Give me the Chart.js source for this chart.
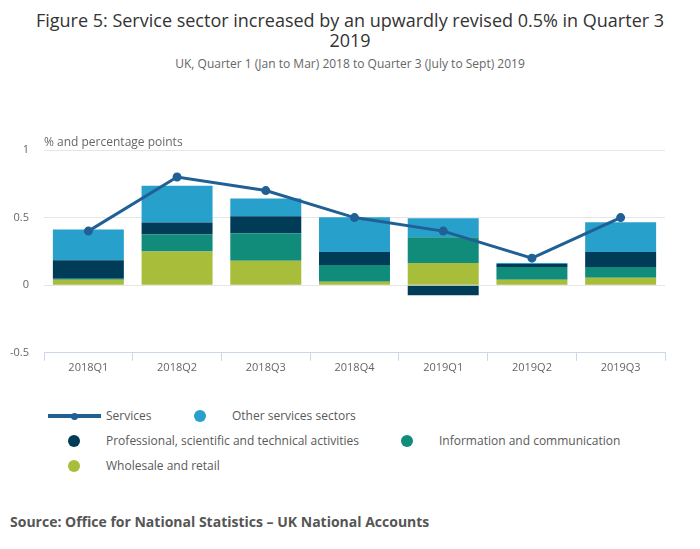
<!DOCTYPE html>
<html>
<head>
<meta charset="utf-8">
<script src="https://cdn.jsdelivr.net/npm/chart.js@4"></script>
<style>
  body { margin: 0; background: #fff; font-family: 'Open Sans', sans-serif; }
  #page { position: relative; width: 700px; height: 549px; overflow: hidden; }
  .title { position: absolute; left: 0; width: 700px; text-align: center; color: #333; font-size: 18px; line-height: 20px; }
  .subtitle { position: absolute; left: 0; width: 700px; text-align: center; color: #666; font-size: 12px; }
  #chartWrap { position: absolute; left: 0; top: 0; width: 700px; height: 380px; }
  .legend-item { position: absolute; font-size: 12px; color: #595959; line-height: 16px; white-space: nowrap; }
  .dot { position: absolute; width: 12px; height: 12px; border-radius: 50%; }
  .source { position: absolute; left: 10px; top: 512px; font-size: 14px; font-weight: bold; color: #555; }
</style>
</head>
<body>
<div id="page">
  <div class="title" style="top:10px">Figure 5: Service sector increased by an upwardly revised 0.5% in Quarter 3<br>2019</div>
  <div class="subtitle" style="top:55px">UK, Quarter 1 (Jan to Mar) 2018 to Quarter 3 (July to Sept) 2019</div>
  <div id="chartWrap"><canvas id="serviceChart"></canvas></div>
  <div id="legend"></div>
  <div class="source">Source: Office for National Statistics – UK National Accounts</div>
</div>
<script>
// Quarterly growth and contributions (percentage points)
const quarters = ['2018Q1', '2018Q2', '2018Q3', '2018Q4', '2019Q1', '2019Q2', '2019Q3'];
const services = [0.4, 0.8, 0.7, 0.5, 0.4, 0.2, 0.5];
const wholesale = [0.04, 0.25, 0.18, 0.025, 0.165, 0.04, 0.055];
const information = [0.007, 0.125, 0.205, 0.125, 0.19, 0.095, 0.08];
const professional = [0.137, 0.088, 0.125, 0.095, -0.075, 0.022, 0.11];
const otherServices = [0.228, 0.272, 0.132, 0.257, 0.14, 0.007, 0.22];
const yTicks = [-0.5, 0, 0.5, 1];

const colors = {
    line: '#206095',
    other: '#27a0cc',
    prof: '#003c57',
    info: '#118c7b',
    retail: '#a8bd3a'
};

// draws the "% and percentage points" label above the plot
const axisLabel = {
    id: 'axisLabel',
    afterDraw(chart) {
        const { ctx, chartArea } = chart;
        ctx.save();
        ctx.font = "12px 'Open Sans', sans-serif";
        ctx.fillStyle = '#666';
        ctx.textBaseline = 'middle';
        ctx.fillText('% and percentage points', chartArea.left, chartArea.top - 7);
        ctx.restore();
    }
};

Chart.defaults.font.family = "'Open Sans', sans-serif";
Chart.defaults.color = '#666';

const chart = new Chart(document.getElementById('serviceChart'), {
    type: 'bar',
    data: {
        labels: quarters,
        datasets: [
            { type: 'line', label: 'Services', data: services, borderColor: colors.line, backgroundColor: colors.line,
              borderWidth: 3, pointRadius: 3, pointBackgroundColor: colors.line, tension: 0, order: 0 },
            { label: 'Wholesale and retail', data: wholesale, backgroundColor: colors.retail, order: 1, stack: 's' },
            { label: 'Information and communication', data: information, backgroundColor: colors.info, order: 1, stack: 's' },
            { label: 'Professional, scientific and technical activities', data: professional, backgroundColor: colors.prof, order: 1, stack: 's' },
            { label: 'Other services sectors', data: otherServices, backgroundColor: colors.other, order: 1, stack: 's' }
        ]
    },
    options: {
        responsive: true,
        maintainAspectRatio: false,
        animation: false,
        datasets: { bar: { barPercentage: 0.8, categoryPercentage: 1 } },
        layout: { padding: { top: 150, right: 35, left: 0, bottom: 6 } },
        plugins: { legend: { display: false } },
        scales: {
            x: {
                stacked: true,
                grid: { offset: true, drawOnChartArea: false, drawTicks: true, tickLength: 8, color: '#ccd6eb' },
                border: { color: '#ccd6eb' },
                ticks: { padding: 0, font: { size: 11 }, color: '#666' }
            },
            y: {
                stacked: true,
                min: -0.5,
                max: 1,
                afterBuildTicks: (s) => { s.ticks = yTicks.map(v => ({ value: v })); },
                afterFit: (s) => { s.width = 44; },
                grid: { color: '#e6e6e6', drawTicks: false },
                border: { display: false },
                ticks: { padding: 15, font: { size: 11 }, color: '#666', callback: (v) => String(v) }
            }
        }
    },
    plugins: [axisLabel]
});

// HTML legend laid out like the original
const legendSpots = [
    { label: 'Services', x: 48, y: 416, line: true },
    { label: 'Other services sectors', x: 200, y: 416 },
    { label: 'Professional, scientific and technical activities', x: 74, y: 441 },
    { label: 'Information and communication', x: 407, y: 441 },
    { label: 'Wholesale and retail', x: 74, y: 466 }
];
const legend = document.getElementById('legend');
legendSpots.forEach(spot => {
    const ds = chart.data.datasets.find(d => d.label === spot.label);
    if (spot.line) {
        legend.insertAdjacentHTML('beforeend',
            `<div style="position:absolute;left:${spot.x}px;top:${spot.y - 2}px;width:53px;height:4px;background:${ds.borderColor}"></div>` +
            `<div class="dot" style="left:${spot.x + 23}px;top:${spot.y - 3.5}px;width:7px;height:7px;background:${ds.borderColor}"></div>` +
            `<div class="legend-item" style="left:${spot.x + 58}px;top:${spot.y - 8}px">${ds.label}</div>`);
    } else {
        legend.insertAdjacentHTML('beforeend',
            `<div class="dot" style="left:${spot.x - 6}px;top:${spot.y - 6}px;background:${ds.backgroundColor}"></div>` +
            `<div class="legend-item" style="left:${spot.x + 32}px;top:${spot.y - 8}px">${ds.label}</div>`);
    }
});
</script>
</body>
</html>
